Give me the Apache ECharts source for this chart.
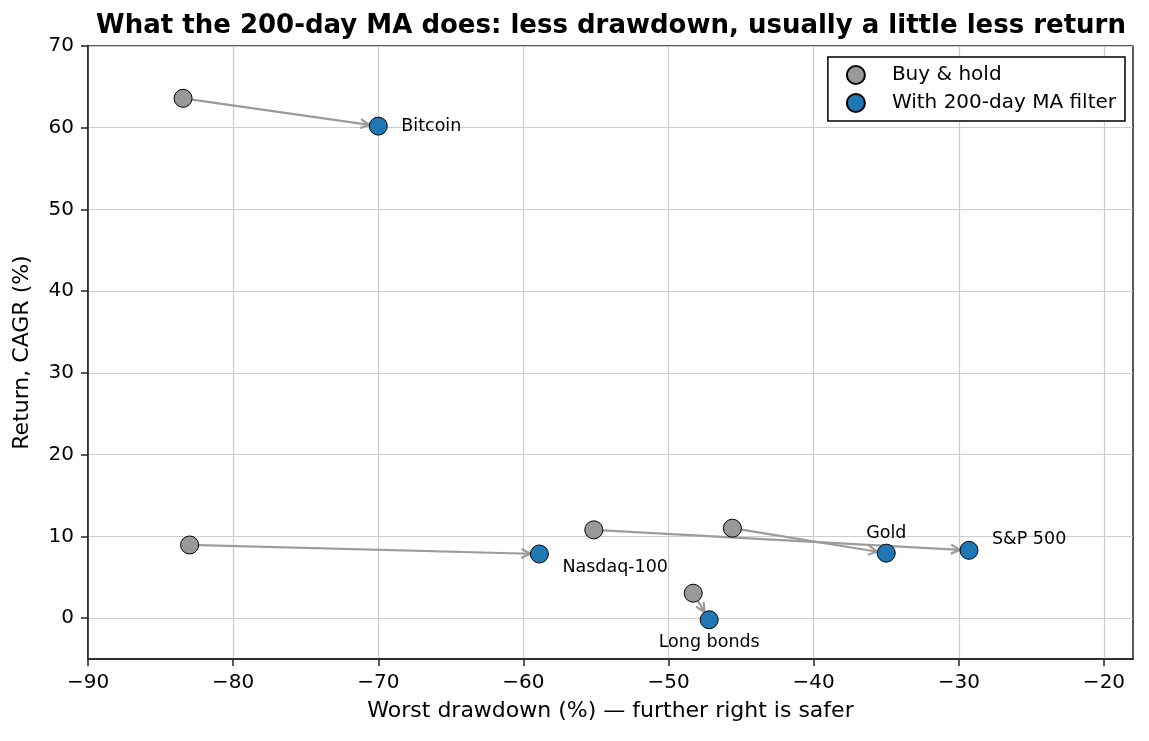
<!DOCTYPE html>
<html><head><meta charset="utf-8">
<script src="https://cdn.jsdelivr.net/npm/echarts@6/dist/echarts.min.js"></script>
<style>html,body{margin:0;padding:0;background:#fff}#c{width:1149px;height:741px}</style>
</head><body><div id="c"></div>
<script>
// ---- data ----
const assets      = ['Bitcoin', 'Nasdaq-100', 'S&P 500', 'Gold', 'Long bonds'];
const bhDrawdown  = [-83.45, -83.0, -55.15, -45.6, -48.3];
const bhCAGR      = [63.6, 8.95, 10.8, 11.0, 3.05];
const maDrawdown  = [-70.0, -58.9, -29.3, -35.0, -47.2];
const maCAGR      = [60.2, 7.85, 8.3, 7.95, -0.2];
const xTicks = [-90, -80, -70, -60, -50, -40, -30, -20];
const yTicks = [0, 10, 20, 30, 40, 50, 60, 70];

// ---- label placement (style) ----
const labelStyle = {
  'Bitcoin':    {align: 'left',   offset: [23, 0]},
  'Nasdaq-100': {align: 'left',   offset: [23, 13]},
  'S&P 500':    {align: 'left',   offset: [23, -11]},
  'Gold':       {align: 'center', offset: [0, -20]},
  'Long bonds': {align: 'center', offset: [0, 23]}
};

const FONT = 'DejaVu Sans';
const fmtNum = v => (v < 0 ? '\u2212' + Math.abs(v) : String(v));
const R = 9;

const chart = echarts.init(document.getElementById('c'), null, {renderer: 'canvas'});
chart.setOption({
  animation: false,
  backgroundColor: '#fff',
  textStyle: {fontFamily: FONT},
  title: {
    text: 'What the 200-day MA does: less drawdown, usually a little less return',
    left: 606, top: 8, textAlign: 'center',
    textStyle: {fontFamily: FONT, fontSize: 26, fontWeight: 'bold', color: '#000'}
  },
  legend: {
    right: 24, top: 57, orient: 'vertical',
    data: ['Buy & hold', 'With 200-day MA filter'],
    itemWidth: 18, itemHeight: 18, itemGap: 8,
    padding: [8, 9, 8, 18],
    borderColor: '#000', borderWidth: 1.5, borderRadius: 0,
    backgroundColor: '#fff',
    textStyle: {fontFamily: FONT, fontSize: 20, color: '#000', padding: [0, 0, 0, 22]}
  },
  grid: {left: 88, right: 16, top: 46, bottom: 82, show: true, borderColor: '#222', borderWidth: 1.5, containLabel: false},
  xAxis: {
    type: 'value', min: -90, max: -18,
    name: 'Worst drawdown (%) \u2014 further right is safer',
    nameLocation: 'middle', nameGap: 41,
    nameTextStyle: {fontFamily: FONT, fontSize: 22, color: '#000'},
    axisLine: {show: true, onZero: false, lineStyle: {color: '#222', width: 1.5}},
    axisTick: {show: true, length: 7, customValues: xTicks, lineStyle: {color: '#222', width: 1.5}},
    axisLabel: {margin: 14, fontSize: 20, color: '#000', fontFamily: FONT, customValues: xTicks, formatter: fmtNum},
    splitLine: {show: true, customValues: xTicks, lineStyle: {color: '#cccccc', width: 1.2}}
  },
  yAxis: {
    type: 'value', min: -5, max: 70,
    name: 'Return, CAGR (%)',
    nameLocation: 'middle', nameGap: 55,
    nameTextStyle: {fontFamily: FONT, fontSize: 22, color: '#000'},
    axisLine: {show: true, onZero: false, lineStyle: {color: '#222', width: 1.5}},
    axisTick: {show: true, length: 7, customValues: yTicks, lineStyle: {color: '#222', width: 1.5}},
    axisLabel: {margin: 14, fontSize: 20, color: '#000', fontFamily: FONT, customValues: yTicks, formatter: fmtNum},
    splitLine: {show: true, customValues: yTicks, lineStyle: {color: '#cccccc', width: 1.2}}
  },
  series: [
    {
      type: 'custom', name: 'arrows', z: 1, silent: true,
      encode: {x: [0, 2], y: [1, 3]},
      data: assets.map((n, i) => [bhDrawdown[i], bhCAGR[i], maDrawdown[i], maCAGR[i]]),
      renderItem: function (params, api) {
        const p0 = api.coord([api.value(0), api.value(1)]);
        const p1 = api.coord([api.value(2), api.value(3)]);
        const dx = p1[0] - p0[0], dy = p1[1] - p0[1];
        const L = Math.hypot(dx, dy);
        const ux = dx / L, uy = dy / L;
        const s = [p0[0] + ux * R, p0[1] + uy * R];
        const e = [p1[0] - ux * R, p1[1] - uy * R];
        const hl = 9, hw = 4.5;
        const b = [e[0] - ux * hl, e[1] - uy * hl];
        const w1 = [b[0] - uy * hw, b[1] + ux * hw];
        const w2 = [b[0] + uy * hw, b[1] - ux * hw];
        return {
          type: 'group',
          children: [
            {type: 'line', shape: {x1: s[0], y1: s[1], x2: e[0], y2: e[1]}, style: {stroke: '#9b9b9b', lineWidth: 2.2}},
            {type: 'polyline', shape: {points: [w1, e, w2]}, style: {stroke: '#9b9b9b', lineWidth: 2.2, fill: null}}
          ]
        };
      }
    },
    {
      type: 'scatter', name: 'Buy & hold', z: 3,
      symbol: 'circle', symbolSize: 18,
      itemStyle: {color: '#999999', borderColor: '#000', borderWidth: 1, opacity: 1},
      data: assets.map((n, i) => ({name: n, value: [bhDrawdown[i], bhCAGR[i]]}))
    },
    {
      type: 'scatter', name: 'With 200-day MA filter', z: 3,
      symbol: 'circle', symbolSize: 18,
      itemStyle: {color: '#1f77b4', borderColor: '#000', borderWidth: 1, opacity: 1},
      data: assets.map((n, i) => ({
        name: n, value: [maDrawdown[i], maCAGR[i]],
        label: {
          show: true, position: 'inside', formatter: n,
          align: labelStyle[n].align, verticalAlign: 'middle',
          offset: labelStyle[n].offset,
          fontFamily: FONT, fontSize: 17.5, color: '#000'
        }
      }))
    }
  ]
});
</script>
</body></html>
